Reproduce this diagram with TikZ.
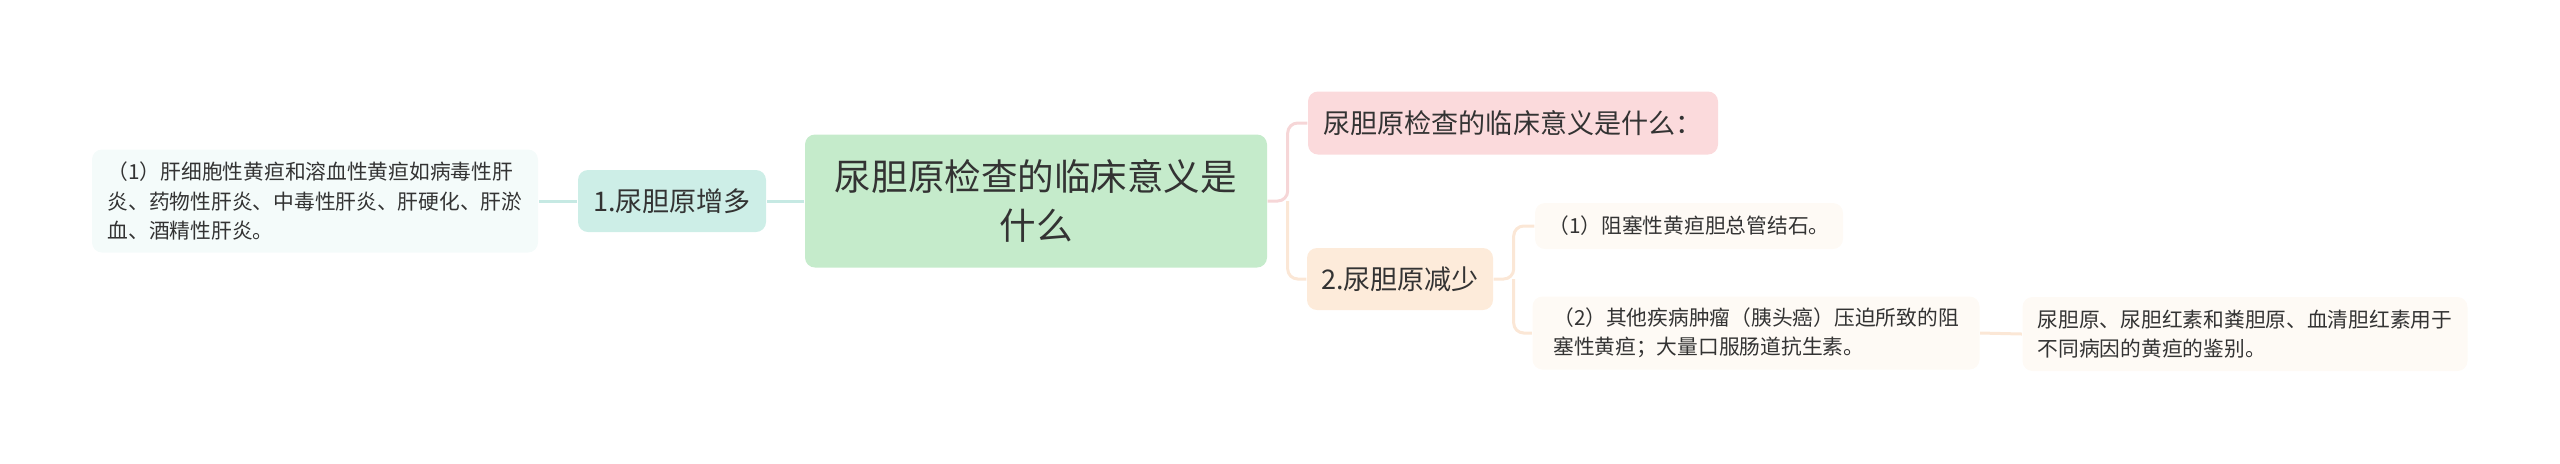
\documentclass[tikz,border=0pt]{standalone}
\usepackage{fontspec}
\newfontfamily\cjk{Noto Sans CJK SC}
\definecolor{rootfill}{HTML}{C5EBCB}
\definecolor{tealfill}{HTML}{CDEEE7}
\definecolor{tealleaf}{HTML}{F4FBFA}
\definecolor{tealline}{HTML}{C6E9E3}
\definecolor{pinkfill}{HTML}{FBDADC}
\definecolor{pinkline}{HTML}{F6D6D7}
\definecolor{peachfill}{HTML}{FDEBDA}
\definecolor{peachleaf}{HTML}{FEFAF5}
\definecolor{peachline}{HTML}{FBE7D6}
\definecolor{inkgray}{HTML}{333333}

\begin{document}
\begin{tikzpicture}[x=0.1mm, y=-0.1mm,
  box/.style={rounded corners=1mm, inner sep=0pt, align=left, text=inkgray},
  bigtext/.style={font=\cjk\fontsize{10.4pt}{13.9pt}\selectfont},
  midtext/.style={font=\cjk\fontsize{7.7pt}{9.5pt}\selectfont},
  smalltext/.style={font=\cjk\fontsize{5.9pt}{8.4pt}\selectfont},
  link/.style={line width=0.3mm, rounded corners=1mm}]

\useasboundingbox (0,0) rectangle (2560,463);

\node[box, bigtext, fill=rootfill, align=center, minimum width=46.2mm, minimum height=13.3mm] (root) at (1036,201) {尿胆原检查的临床意义是\\什么};

\node[box, midtext, fill=tealfill, minimum width=18.8mm, minimum height=6.2mm] (more) at (672,201) {1.尿胆原增多};
\node[box, smalltext, fill=tealleaf, minimum width=44.6mm, minimum height=10.3mm] (moreleaf) at (315,201) {（1）肝细胞性黄疸和溶血性黄疸如病毒性肝\\炎、药物性肝炎、中毒性肝炎、肝硬化、肝淤\\血、酒精性肝炎。};

\node[box, midtext, fill=pinkfill, minimum width=41mm, minimum height=6.3mm] (question) at (1513,123) {尿胆原检查的临床意义是什么：};
\node[box, midtext, fill=peachfill, minimum width=18.6mm, minimum height=6.2mm] (less) at (1400,279) {2.尿胆原减少};

\node[box, smalltext, fill=peachleaf, minimum width=30.8mm, minimum height=4.6mm] (lessone) at (1689,226) {（1）阻塞性黄疸胆总管结石。};
\node[box, smalltext, fill=peachleaf, minimum width=44.7mm, minimum height=7.3mm] (lesstwo) at (1756,333) {（2）其他疾病肿瘤（胰头癌）压迫所致的阻\\塞性黄疸；大量口服肠道抗生素。};
\node[box, smalltext, fill=peachleaf, minimum width=44.5mm, minimum height=7.4mm] (note) at (2245,334) {尿胆原、尿胆红素和粪胆原、血清胆红素用于\\不同病因的黄疸的鉴别。};

\draw[link, tealline] (root.west) -- (more.east);
\draw[link, tealline] (more.west) -- (moreleaf.east);

\draw[link, pinkline] (root.east) -- ++(20,0) |- (question.west);
\draw[link, peachline] (root.east) ++(20,0) |- (less.west);
\draw[link, peachline] (less.east) -- ++(20,0) |- (lessone.west);
\draw[link, peachline] (less.east) ++(20,0) |- (lesstwo.west);
\draw[link, peachline] (lesstwo.east) -- (note.west);

\end{tikzpicture}
\end{document}
